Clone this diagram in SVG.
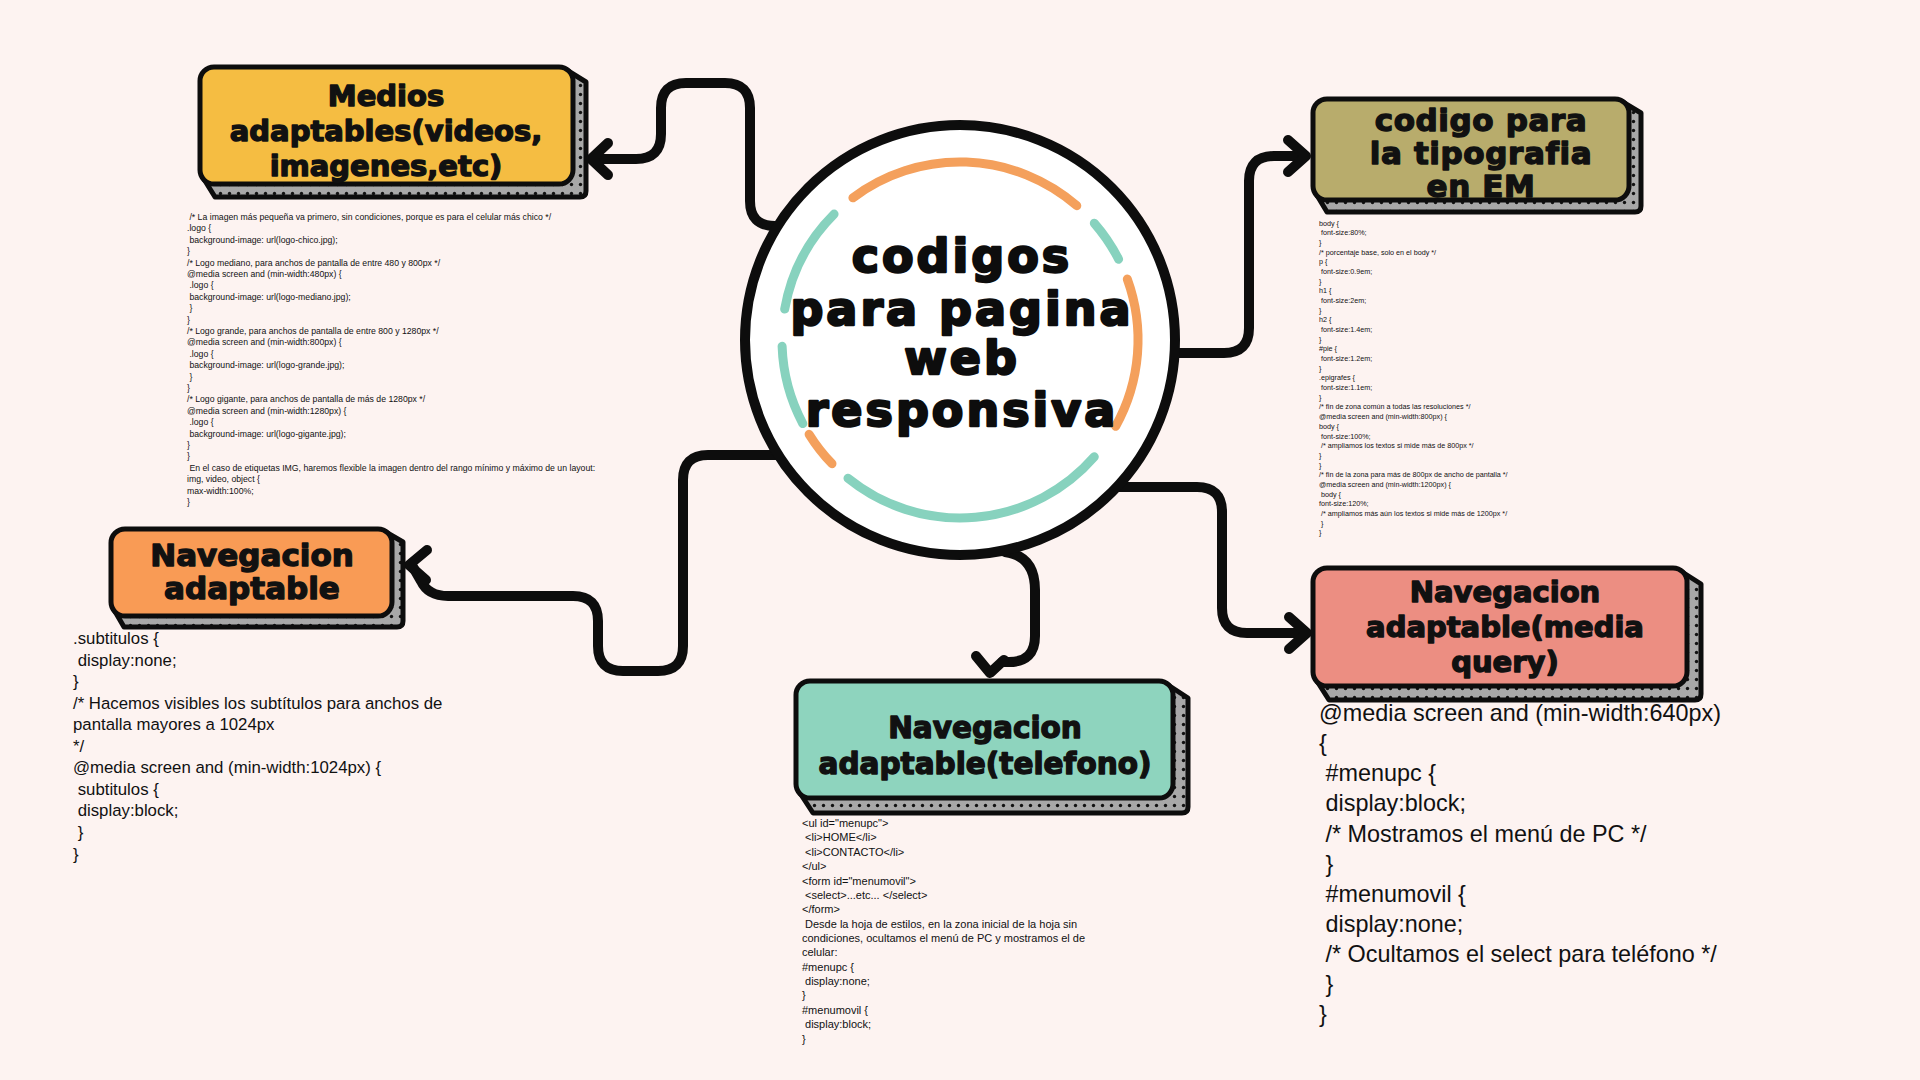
<svg xmlns="http://www.w3.org/2000/svg" width="1920" height="1080" viewBox="0 0 1920 1080">
<style>
.bg{fill:#FDF3F1}
.conn{fill:none;stroke:#0d0d0d;stroke-width:10;stroke-linecap:round;stroke-linejoin:round}
.shadow{fill:url(#dots);stroke:#0d0d0d;stroke-width:5;stroke-linejoin:round}
.box{stroke:#0d0d0d;stroke-width:5}
.t{font-family:"DejaVu Sans",sans-serif;font-weight:700;fill:#111;stroke:#111;stroke-width:1.4;stroke-linejoin:round;text-anchor:middle}
.ct{font-family:"DejaVu Sans",sans-serif;font-weight:700;font-size:46px;letter-spacing:3px;fill:#0d0d0d;stroke:#0d0d0d;stroke-width:2.4;stroke-linejoin:round;text-anchor:middle}
.arc{fill:none;stroke-width:9;stroke-linecap:round}
.o{stroke:#F4A05C}
.g{stroke:#87D2BE}
.code{font-family:"Liberation Sans",Arial,sans-serif;fill:#111;white-space:pre}
</style>
<defs>
<pattern id="dots" width="9" height="9" patternUnits="userSpaceOnUse"><rect width="9" height="9" fill="#A8A8A8"/><circle cx="4.5" cy="4.5" r="1.7" fill="#111"/></pattern>
</defs>
<rect class="bg" x="0" y="0" width="1920" height="1080"/>

<g id="connectors">
<path class="conn" d="M 782 226 L 775 226 Q 750 226 750 201 L 750 108 Q 750 83 725 83 L 686 83 Q 661 83 661 108 L 661 134 Q 661 159 636 159 L 592 159"/>
<polyline class="conn" points="608,143 591,159 608,175"/>
<path class="conn" d="M 1170 353 L 1224 353 Q 1249 353 1249 328 L 1249 181 Q 1249 156 1274 156 L 1304 156"/>
<polyline class="conn" points="1288,140 1306,156 1288,172"/>
<path class="conn" d="M 1112 487 L 1197 487 Q 1222 487 1222 512 L 1222 608 Q 1222 633 1247 633 L 1305 633"/>
<polyline class="conn" points="1289,617 1307,633 1289,649"/>
<path class="conn" d="M 1005 552 Q 1035 556 1035 590 L 1035 636 Q 1035 662 1009 662 L 1002 662"/>
<polyline class="conn" points="976,656 990,673 1004,660"/>
<path class="conn" d="M 780 455 L 708 455 Q 683 455 683 480 L 683 646 Q 683 671 658 671 L 623 671 Q 598 671 598 646 L 598 621 Q 598 596 573 596 L 448 596 Q 428 596 421 581 L 413 567"/>
<polyline class="conn" points="427,550 409,565 426,580"/>
</g>

<g id="center">
<circle cx="960" cy="340" r="215" fill="#ffffff" stroke="#0d0d0d" stroke-width="10"/>
<path class="arc o" d="M 852.9 197.8 A 178 178 0 0 1 1076.8 205.7"/>
<path class="arc g" d="M 1094.3 223.2 A 178 178 0 0 1 1118.6 259.2"/>
<path class="arc o" d="M 1127.3 279.1 A 178 178 0 0 1 1115.7 426.3"/>
<path class="arc g" d="M 1094.3 456.8 A 178 178 0 0 1 848.0 478.3"/>
<path class="arc o" d="M 832.0 463.7 A 178 178 0 0 1 809.1 434.3"/>
<path class="arc g" d="M 802.8 423.6 A 178 178 0 0 1 782.1 346.2"/>
<path class="arc g" d="M 784.7 309.1 A 178 178 0 0 1 834.1 214.1"/>
<text class="ct" x="962" y="272">codigos</text>
<text class="ct" x="962" y="325">para pagina</text>
<text class="ct" x="962" y="374">web</text>
<text class="ct" x="962" y="426">responsiva</text>
</g>

<g id="node-medios">
<path class="shadow" d="M 565 69 L 586 82 L 586 191 Q 586 197 580 197 L 215 197 L 202 176 Z"/>
<rect class="box" x="200" y="67" width="373" height="117" rx="14" fill="#F5BD42"/>
<text class="t" font-size="29" x="386" y="106">Medios</text>
<text class="t" font-size="29" x="386" y="141">adaptables(videos,</text>
<text class="t" font-size="29" x="386" y="176">imagenes,etc)</text>
</g>

<g id="node-tipografia">
<path class="shadow" d="M 1621 101 L 1641 113 L 1641 206 Q 1641 212 1635 212 L 1327 212 L 1315 192 Z"/>
<rect class="box" x="1313" y="99" width="316" height="101" rx="14" fill="#B8AC6C"/>
<text class="t" font-size="31" letter-spacing="0.6" x="1481" y="131">codigo para</text>
<text class="t" font-size="31" letter-spacing="0.6" x="1481" y="164">la tipografia</text>
<text class="t" font-size="31" letter-spacing="0.6" x="1481" y="197">en EM</text>
</g>

<g id="node-navegacion">
<path class="shadow" d="M 384 531 L 403 542 L 403 621 Q 403 627 397 627 L 124 627 L 113 608 Z"/>
<rect class="box" x="111" y="529" width="281" height="87" rx="14" fill="#F99B55"/>
<text class="t" font-size="31" x="252" y="566">Navegacion</text>
<text class="t" font-size="31" x="252" y="599">adaptable</text>
</g>

<g id="node-media-query">
<path class="shadow" d="M 1679 570 L 1701 584 L 1701 694 Q 1701 700 1695 700 L 1329 700 L 1315 678 Z"/>
<rect class="box" x="1313" y="568" width="374" height="118" rx="14" fill="#EC8E82"/>
<text class="t" font-size="29" x="1505" y="602">Navegacion</text>
<text class="t" font-size="29" x="1505" y="637">adaptable(media</text>
<text class="t" font-size="29" x="1505" y="672">query)</text>
</g>

<g id="node-telefono">
<path class="shadow" d="M 1165 683 L 1188 698 L 1188 807 Q 1188 813 1182 813 L 813 813 L 798 790 Z"/>
<rect class="box" x="796" y="681" width="377" height="117" rx="14" fill="#8ED4BE"/>
<text class="t" font-size="29.5" x="985" y="738">Navegacion</text>
<text class="t" font-size="29.5" x="985" y="774">adaptable(telefono)</text>
</g>

<g id="code-medios" class="code" font-size="8.7">
<text x="187" y="220">&#160;/* La imagen más pequeña va primero, sin condiciones, porque es para el celular más chico */</text>
<text x="187" y="231.4">.logo {</text>
<text x="187" y="242.8">&#160;background-image: url(logo-chico.jpg);</text>
<text x="187" y="254.2">}</text>
<text x="187" y="265.6">/* Logo mediano, para anchos de pantalla de entre 480 y 800px */</text>
<text x="187" y="277">@media screen and (min-width:480px) {</text>
<text x="187" y="288.4">&#160;.logo {</text>
<text x="187" y="299.8">&#160;background-image: url(logo-mediano.jpg);</text>
<text x="187" y="311.2">&#160;}</text>
<text x="187" y="322.6">}</text>
<text x="187" y="334">/* Logo grande, para anchos de pantalla de entre 800 y 1280px */</text>
<text x="187" y="345.4">@media screen and (min-width:800px) {</text>
<text x="187" y="356.8">&#160;.logo {</text>
<text x="187" y="368.2">&#160;background-image: url(logo-grande.jpg);</text>
<text x="187" y="379.6">&#160;}</text>
<text x="187" y="391">}</text>
<text x="187" y="402.4">/* Logo gigante, para anchos de pantalla de más de 1280px */</text>
<text x="187" y="413.8">@media screen and (min-width:1280px) {</text>
<text x="187" y="425.2">&#160;.logo {</text>
<text x="187" y="436.6">&#160;background-image: url(logo-gigante.jpg);</text>
<text x="187" y="448">}</text>
<text x="187" y="459.4">}</text>
<text x="187" y="470.8">&#160;En el caso de etiquetas IMG, haremos flexible la imagen dentro del rango mínimo y máximo de un layout:</text>
<text x="187" y="482.2">img, video, object {</text>
<text x="187" y="493.6">max-width:100%;</text>
<text x="187" y="505">}</text>
</g>

<g id="code-tipografia" class="code" font-size="7.2">
<text x="1319" y="225.5">body {</text>
<text x="1319" y="235.2">&#160;font-size:80%;</text>
<text x="1319" y="244.9">}</text>
<text x="1319" y="254.5">/* porcentaje base, solo en el body */</text>
<text x="1319" y="264.2">p {</text>
<text x="1319" y="273.9">&#160;font-size:0.9em;</text>
<text x="1319" y="283.6">}</text>
<text x="1319" y="293.3">h1 {</text>
<text x="1319" y="302.9">&#160;font-size:2em;</text>
<text x="1319" y="312.6">}</text>
<text x="1319" y="322.3">h2 {</text>
<text x="1319" y="332">&#160;font-size:1.4em;</text>
<text x="1319" y="341.7">}</text>
<text x="1319" y="351.3">#pie {</text>
<text x="1319" y="361">&#160;font-size:1.2em;</text>
<text x="1319" y="370.7">}</text>
<text x="1319" y="380.4">.epigrafes {</text>
<text x="1319" y="390.1">&#160;font-size:1.1em;</text>
<text x="1319" y="399.7">}</text>
<text x="1319" y="409.4">/* fin de zona común a todas las resoluciones */</text>
<text x="1319" y="419.1">@media screen and (min-width:800px) {</text>
<text x="1319" y="428.8">body {</text>
<text x="1319" y="438.5">&#160;font-size:100%;</text>
<text x="1319" y="448.1">&#160;/* ampliamos los textos si mide más de 800px */</text>
<text x="1319" y="457.8">}</text>
<text x="1319" y="467.5">}</text>
<text x="1319" y="477.2">/* fin de la zona para más de 800px de ancho de pantalla */</text>
<text x="1319" y="486.9">@media screen and (min-width:1200px) {</text>
<text x="1319" y="496.5">&#160;body {</text>
<text x="1319" y="506.2">font-size:120%;</text>
<text x="1319" y="515.9">&#160;/* ampliamos más aún los textos si mide más de 1200px */</text>
<text x="1319" y="525.6">&#160;}</text>
<text x="1319" y="535.3">}</text>
</g>

<g id="code-telefono" class="code" font-size="11">
<text x="802" y="827">&lt;ul id="menupc"&gt;</text>
<text x="802" y="841.4">&#160;&lt;li&gt;HOME&lt;/li&gt;</text>
<text x="802" y="855.7">&#160;&lt;li&gt;CONTACTO&lt;/li&gt;</text>
<text x="802" y="870.1">&lt;/ul&gt;</text>
<text x="802" y="884.5">&lt;form id="menumovil"&gt;</text>
<text x="802" y="898.9">&#160;&lt;select&gt;...etc... &lt;/select&gt;</text>
<text x="802" y="913.2">&lt;/form&gt;</text>
<text x="802" y="927.6">&#160;Desde la hoja de estilos, en la zona inicial de la hoja sin</text>
<text x="802" y="942">condiciones, ocultamos el menú de PC y mostramos el de</text>
<text x="802" y="956.3">celular:</text>
<text x="802" y="970.7">#menupc {</text>
<text x="802" y="985.1">&#160;display:none;</text>
<text x="802" y="999.4">}</text>
<text x="802" y="1013.8">#menumovil {</text>
<text x="802" y="1028.2">&#160;display:block;</text>
<text x="802" y="1042.6">}</text>
</g>

<g id="code-navegacion" class="code" font-size="16.8">
<text x="73" y="644">.subtitulos {</text>
<text x="73" y="665.6">&#160;display:none;</text>
<text x="73" y="687.1">}</text>
<text x="73" y="708.7">/* Hacemos visibles los subtítulos para anchos de</text>
<text x="73" y="730.2">pantalla mayores a 1024px</text>
<text x="73" y="751.8">*/</text>
<text x="73" y="773.3">@media screen and (min-width:1024px) {</text>
<text x="73" y="794.9">&#160;subtitulos {</text>
<text x="73" y="816.4">&#160;display:block;</text>
<text x="73" y="838">&#160;}</text>
<text x="73" y="859.5">}</text>
</g>

<g id="code-media-query" class="code" font-size="23.4">
<text x="1319" y="721">@media screen and (min-width:640px)</text>
<text x="1319" y="751.1">{</text>
<text x="1319" y="781.2">&#160;#menupc {</text>
<text x="1319" y="811.4">&#160;display:block;</text>
<text x="1319" y="841.5">&#160;/* Mostramos el menú de PC */</text>
<text x="1319" y="871.6">&#160;}</text>
<text x="1319" y="901.7">&#160;#menumovil {</text>
<text x="1319" y="931.8">&#160;display:none;</text>
<text x="1319" y="962">&#160;/* Ocultamos el select para teléfono */</text>
<text x="1319" y="992.1">&#160;}</text>
<text x="1319" y="1022.2">}</text>
</g>
</svg>
